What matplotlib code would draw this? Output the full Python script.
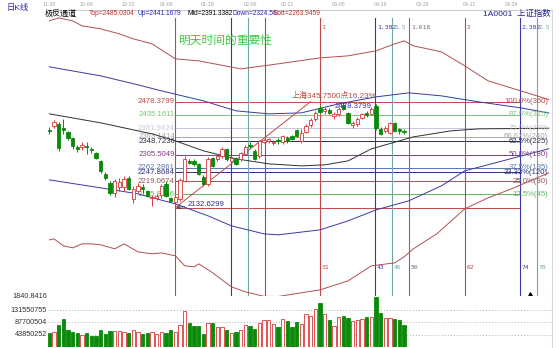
import numpy as np
import matplotlib
matplotlib.use('Agg')
import matplotlib.pyplot as plt
from matplotlib.transforms import blended_transform_factory

plt.rcParams['font.family'] = ['Liberation Sans', 'Noto Sans CJK SC']

# daily candles of 1A0001, oldest first
opens = [2386, 2399, 2406, 2393, 2380, 2360, 2331, 2331, 2334, 2324,
         2311, 2285, 2243, 2213, 2181, 2200, 2200, 2230, 2161, 2187,
         2200, 2187, 2164, 2164, 2174, 2210, 2164, 2151, 2161, 2220,
         2285, 2285, 2275, 2233, 2210, 2295, 2292, 2301, 2324, 2285,
         2292, 2292, 2308, 2337, 2318, 2301, 2347, 2350, 2344, 2353,
         2347, 2360, 2366, 2386, 2350, 2380, 2402, 2422, 2458, 2448,
         2451, 2432, 2438, 2468, 2442, 2402, 2406, 2425, 2442, 2438,
         2464, 2389, 2383, 2376, 2409, 2389, 2383]
highs = [2396, 2419, 2412, 2422, 2383, 2363, 2337, 2347, 2347, 2331,
         2314, 2288, 2249, 2220, 2226, 2230, 2236, 2236, 2203, 2213,
         2210, 2190, 2174, 2177, 2210, 2220, 2168, 2174, 2230, 2301,
         2292, 2292, 2278, 2239, 2298, 2298, 2308, 2331, 2327, 2301,
         2298, 2314, 2337, 2347, 2324, 2353, 2357, 2360, 2353, 2360,
         2370, 2366, 2370, 2389, 2389, 2406, 2425, 2448, 2468, 2461,
         2458, 2445, 2461, 2478.3799, 2445, 2415, 2428, 2442, 2448, 2461,
         2471, 2396, 2399, 2412, 2412, 2393, 2389]
lows = [2373, 2393, 2318, 2373, 2353, 2324, 2314, 2321, 2308, 2311,
        2291, 2246, 2223, 2174, 2168, 2187, 2187, 2190, 2148, 2181,
        2181, 2168, 2138, 2158, 2164, 2168, 2151, 2132.6299, 2155, 2216,
        2275, 2269, 2239, 2203, 2203, 2265, 2285, 2295, 2285, 2278,
        2272, 2285, 2305, 2327, 2288, 2295, 2344, 2344, 2337, 2340,
        2340, 2344, 2353, 2363, 2344, 2376, 2396, 2415, 2442, 2438,
        2438, 2422, 2432, 2451, 2406, 2393, 2399, 2422, 2428, 2435,
        2386, 2370, 2376, 2373, 2380, 2373, 2373]
closes = [2383, 2412, 2327, 2386, 2360, 2334, 2324, 2337, 2331, 2321,
          2295, 2252, 2230, 2181, 2220, 2216, 2226, 2194, 2194, 2203,
          2194, 2171, 2168, 2171, 2203, 2171, 2155, 2168, 2223, 2292,
          2278, 2275, 2243, 2210, 2292, 2269, 2301, 2324, 2292, 2295,
          2275, 2311, 2331, 2334, 2292, 2350, 2353, 2357, 2347, 2350,
          2366, 2350, 2357, 2366, 2376, 2399, 2419, 2442, 2445, 2455,
          2442, 2438, 2455, 2455, 2409, 2409, 2422, 2438, 2435, 2455,
          2393, 2373, 2393, 2409, 2383, 2383, 2380]
volumes = [48.8, 54.6, 78, 100, 60.6, 52, 49, 43, 51, 40,
           40, 60, 45, 57, 57, 56, 52, 51, 60, 52,
           46, 49, 52, 46, 52, 51, 60, 54, 78, 129,
           87, 75, 75, 46, 86, 87, 73, 73, 60, 49,
           52, 62, 78, 76, 65, 86, 98, 95, 83, 73,
           99, 94, 72, 88, 81, 117, 112, 134, 156, 117,
           96, 75, 106, 110, 104, 94, 95, 100, 106, 106,
           179, 120, 102, 102, 100, 98, 78]  # millions

date_ticks = [0, 8, 17, 25, 34, 43, 51, 62, 71, 80, 90, 99]
date_labels = ['11-28', '12-09', '12-22', '01-06', '01-19', '02-06',
               '02-21', '03-05', '03-16', '03-29', '04-11', '04-24']

# channel curves (bar index, price)
top_x = [0, 2, 5, 7, 11, 15, 18, 22, 25, 27, 32, 41, 49, 58, 64, 70, 74, 76, 78, 84, 89, 94, 101, 107]
top_y = [2741.6, 2751.4, 2741.6, 2725.3, 2715.5, 2699.2, 2682.9, 2666.6, 2637.2, 2617.7, 2611.2, 2585.0,
         2601.4, 2620.9, 2627.5, 2643.8, 2666.6, 2676.4, 2660.1, 2640.5, 2594.9, 2545.9, 2513.3, 2485.03]
up_x = [0, 11, 19, 24, 33, 40, 47, 54, 62, 70, 77, 84, 92, 101, 107]
up_y = [2591.6, 2562.2, 2532.8, 2513.3, 2480.7, 2448.1, 2438.3, 2441.5, 2470.9, 2493.7,
        2506.8, 2497.0, 2477.4, 2457.8, 2441.17]
mid_x = [0, 11, 22, 27, 33, 40, 47, 54, 59, 64, 69, 78, 86, 92, 107]
mid_y = [2438.3, 2408.9, 2373.0, 2350.2, 2317.6, 2291.5, 2275.2, 2268.6, 2271.9, 2284.9,
         2324.1, 2363.2, 2382.8, 2389.3, 2391.34]
down_x = [0, 11, 19, 27, 34, 39, 46, 49, 58, 64, 70, 77, 84, 89, 107]
down_y = [2222.9, 2196.9, 2177.3, 2144.7, 2105.5, 2072.9, 2046.8, 2043.6, 2059.9, 2089.2,
          2125.1, 2154.5, 2203.4, 2252.3, 2324.56]
bott_x = [0, 1, 3, 5, 7, 9, 11, 14, 16, 19, 22, 24, 27, 29, 31, 32, 35, 39, 42, 46, 49,
          58, 64, 69, 74, 76, 78, 83, 89, 94, 99, 107]
bott_y = [2027.3, 2030.5, 2007.7, 2001.2, 2014.2, 2014.2, 2011.0, 1998.0, 2014.2, 1988.1, 1981.6,
          1984.8, 1975.1, 1942.5, 1939.2, 1949.0, 1919.6, 1874.0, 1857.7, 1843.0, 1842.5,
          1864.2, 1893.5, 1942.5, 1952.2, 1971.8, 1998.0, 2046.8, 2128.4, 2164.2, 2193.6, 2245.8]

# fibonacci levels between the low and the high
low_idx, low_price = 27, 2132.6299
high_idx, high_price = 63, 2478.3799
fib_ratios = [1.0, 0.875, 0.75, 0.6667, 0.625, 0.5, 0.375, 0.3333, 0.25, 0.125, 0.0]
fib_names = ['100.0%(360)', '87.5%(315)', '75.0%(270)', '66.67%(240)', '62.5%(225)', '50.0%(180)',
             '37.5%(135)', '33.33%(120)', '25.0%(90)', '12.5%(45)', '']
fib_colors = ['#c04848', '#78c878', '#c8c8dc', '#a8a8a8', '#303050', '#804080',
              '#5878a8', '#303078', '#905858', '#60b860', '#c04848']

# time cycle lines, 31 bars from the low
cycle = 31
time_ratios = [0, 0.382, 0.5, 0.618, 1, 1.382, 1.5, 1.618, 2, 2.382, 2.5]
time_top = ['', '', '', '', '1', '1.382', '1.5', '1.618', '2', '2.382', '2.5']
time_bot = ['', '', '', '', '31', '43', '46', '50', '62', '74', '78']
time_colors = ['#c04848', '#3838a8', '#70a8a8', '#705880', '#c04848', '#3838a8',
               '#70a8a8', '#806880', '#c04848', '#3838a8', '#70a8a8']

RED = '#d83838'
GREEN = '#0a8a0a'

fig = plt.figure(figsize=(5.6, 3.48), dpi=100)
ax = fig.add_axes([48 / 560, 1 - 297 / 348, 504 / 560, 287.5 / 348])
axv = fig.add_axes([48 / 560, 1 - 347 / 348, 504 / 560, 51 / 348], sharex=ax)

ax.set_xlim(-0.3, 107.7)
ax.set_ylim(1840.8416, 2778.7)

# fib horizontal levels
rng = high_price - low_price
end_idx = low_idx + 2.382 * cycle
for r, name, col in zip(fib_ratios, fib_names, fib_colors):
    p = low_price + r * rng
    ax.plot([low_idx, end_idx], [p, p], color=col, lw=0.7, zorder=1)
    if r > 0:
        ax.text(low_idx - 0.1, p, '%.4f' % p, color=col, fontsize=5.6,
                ha='right', va='center', zorder=1.5)
    if name:
        ax.text(106.9, p, name, color=col, fontsize=5.6, ha='right', va='center', zorder=5)

# time lines
tr = blended_transform_factory(ax.transData, ax.transAxes)
for r, t1, t2, col in zip(time_ratios, time_top, time_bot, time_colors):
    xx = low_idx + r * cycle
    ax.plot([xx, xx], [0, 0.97], color=col, lw=0.8, transform=tr, zorder=1)
    if t1:
        ax.text(xx + 0.3, 0.936, t1, color=col, fontsize=4.6, family='DejaVu Sans Mono',
                transform=tr, va='center', ha='left')
        ax.text(xx + 0.3, 0.104, t2, color=col, fontsize=4.6, family='DejaVu Sans Mono',
                transform=tr, va='center', ha='left')

# channel
ax.plot(top_x, top_y, color='#b05050', lw=0.7, zorder=2)
ax.plot(up_x, up_y, color='#3a3aa0', lw=0.7, zorder=2)
ax.plot(mid_x, mid_y, color='#303030', lw=0.7, zorder=2)
ax.plot(down_x, down_y, color='#3a3aa0', lw=0.7, zorder=2)
ax.plot(bott_x, bott_y, color='#b05050', lw=0.7, zorder=2)

# trend line from the low
ax.plot([low_idx, 56], [low_price, high_price], color='#c04848', lw=0.7, zorder=2)
ax.text(52, 2497, '上海345.7500点16.23%', color='#c04848', fontsize=5.8, va='center', zorder=5)

# candles
n = len(opens)
idx = np.arange(n)
o = np.array(opens, dtype=float)
c = np.array(closes, dtype=float)
rise = c >= o
edge = [RED if u else GREEN for u in rise]
face = ['white' if u else GREEN for u in rise]
ax.vlines(idx, lows, highs, colors=edge, lw=0.7, zorder=3)
body = np.maximum(np.abs(c - o), 1.8)
ax.bar(idx, body, bottom=np.minimum(o, c), width=0.72, color=face,
       edgecolor=edge, linewidth=0.6, zorder=4)

ax.text(65, 2461, '%.4f' % high_price, color='#3030a0', fontsize=5.6, ha='center', va='center', zorder=6)
ax.annotate('%.4f' % low_price, xy=(low_idx + 0.2, low_price), xytext=(29.6, 2143),
            color='#303078', fontsize=5.6, va='center', ha='left', zorder=6,
            arrowprops=dict(arrowstyle='->', color='#303078', lw=0.6, shrinkA=0, shrinkB=0))

ax.text(27.6, 0.894, '明天时间的重要性', color='#3ccc3c', fontsize=8.5,
        family='Noto Sans CJK SC', transform=tr, va='center', ha='left')

# price panel frame
for s in ['left', 'bottom']:
    ax.spines[s].set_visible(False)
ax.spines['top'].set_color('#c8c8c8')
ax.spines['right'].set_color('#d8d8d8')
ax.spines['top'].set_linewidth(0.7)
ax.spines['right'].set_linewidth(0.7)
ax.set_xticks([])
ax.set_yticks([])
ax.axhline(1840.8416, color='#b0b0b0', lw=0.7, ls=(0, (1, 2)), zorder=1)
ax.text(-0.5, 1840.8416, '1840.8416', color='#303030', fontsize=5.2, ha='right', va='center')
ax.plot([103], [1849], marker='^', color='black', ms=2.5, zorder=6)

for t, lab in zip(date_ticks, date_labels):
    ax.text(t, 1.019, lab, color='#a0a0a0', fontsize=3.8, transform=tr,
            ha='center', va='center', clip_on=False)

# volume
vol = np.array(volumes) * 1e6
axv.bar(idx, vol, width=0.72, color=face, edgecolor=edge, linewidth=0.6, zorder=3)
vol_ticks = [43850252, 87700504, 131550755]
for v in vol_ticks:
    axv.axhline(v, color='#b0b0b0', lw=0.7, ls=(0, (1, 2)), zorder=1)
    axv.text(-0.5, v, str(v), color='#303030', fontsize=5.2, ha='right', va='center')
axv.set_ylim(0, 181.8e6)
for s in axv.spines.values():
    s.set_visible(False)
axv.spines['right'].set_visible(True)
axv.spines['right'].set_color('#d8d8d8')
axv.tick_params(left=False, bottom=False, labelleft=False, labelbottom=False)

# header
def ftext(x, y, s, **kw):
    fig.text(x / 560, 1 - y / 348, s, va='center', **kw)

ftext(7, 8, '日K线', color='#2a2ab0', fontsize=6)
ftext(45, 13.5, '极反通道', color='black', fontsize=5.8)
ftext(89, 13.5, 'Top=2485.0304', color='#c02828', fontsize=4.8)
ftext(137, 13.5, 'Up=2441.1679', color='#2020c0', fontsize=4.8)
ftext(187, 13.5, 'Mid=2391.3382', color='black', fontsize=4.8)
ftext(232, 13.5, 'Down=2324.56', color='#2020c0', fontsize=4.8)
ftext(273, 13.5, 'Bott=2263.9459', color='#c02828', fontsize=4.8)
fig.text(551 / 560, 1 - 13.5 / 348, '1A0001  上证指数', color='#202090', fontsize=6,
         ha='right', va='center')

fig.savefig('out.png', dpi=100)
